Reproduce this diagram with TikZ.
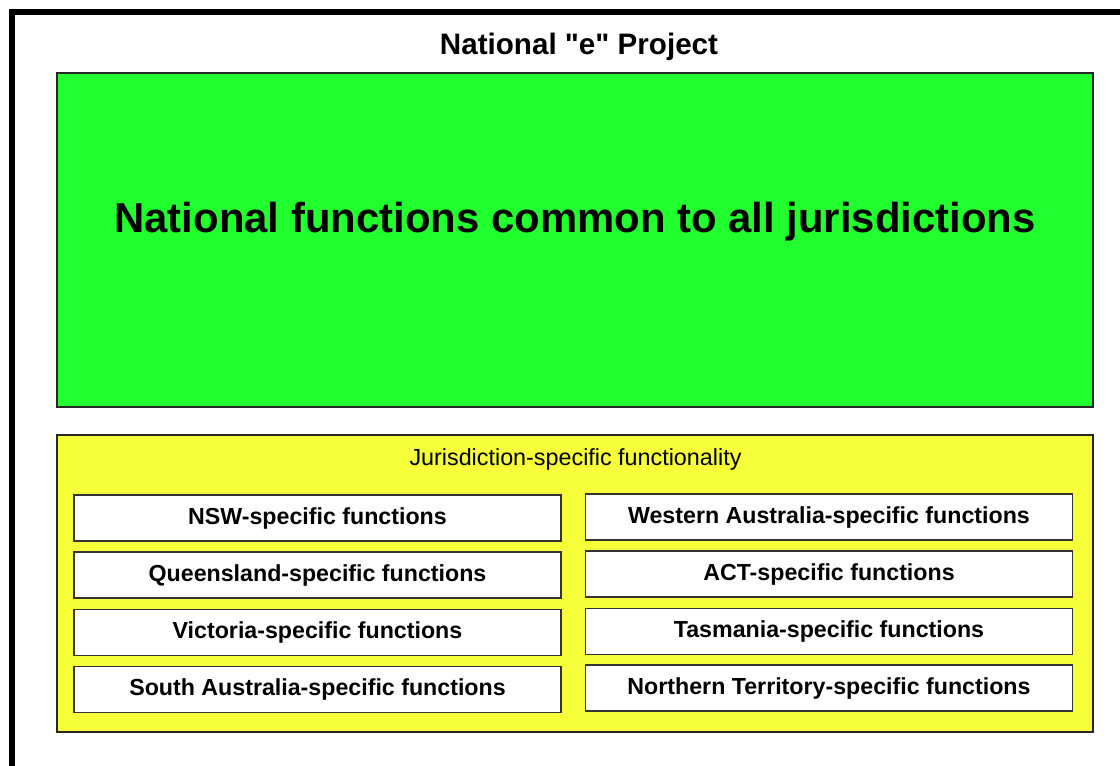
\documentclass[tikz,border=0pt]{standalone}
\usepackage{fontspec}
\setmainfont{Liberation Sans}
\definecolor{natgreen}{RGB}{34,255,46}
\definecolor{jurisyellow}{RGB}{246,255,58}
\tikzset{
  areabox/.style={draw=black!85, line width=0.8pt, inner sep=0pt, minimum width=777pt},
  statebox/.style={draw=black!80, line width=1pt, fill=white, inner sep=0pt,
    minimum width=365.25pt, minimum height=34.5pt,
    font=\fontsize{17.4}{20}\selectfont\bfseries},
}

\begin{document}
\begin{tikzpicture}[x=0.75pt, y=-0.75pt]
\useasboundingbox (0,0) rectangle (1120,765);
\clip (0,0) rectangle (1120,765);

% Outer frame, running off the page on the right and at the bottom
\draw[line width=4.5pt] (11.5,12) rectangle (1150,800);

% Title
\node[font=\fontsize{22.2}{26}\selectfont\bfseries] (title) at (579,47) {National \textquotedbl e\textquotedbl{} Project};

% National part
\node[areabox, fill=natgreen, minimum height=250.5pt] (national) at (575,240) {};
\node[font=\fontsize{31.4}{36}\selectfont\bfseries] (nationaltext) at (575,222) {National functions common to all jurisdictions};

% Jurisdiction part
\node[areabox, fill=jurisyellow, minimum height=222.75pt] (juris) at (575,583.5) {};
\node[font=\fontsize{17.5}{20}\selectfont] (juristitle) at (575.5,459) {Jurisdiction-specific functionality};

% Left column
\node[statebox] (nsw) at (317.5,518) {NSW-specific functions};
\node[statebox] (qld) at (317.5,575) {Queensland-specific functions};
\node[statebox] (vic) at (317.5,632.5) {Victoria-specific functions};
\node[statebox] (sa) at (317.5,689.5) {South Australia-specific functions};

% Right column
\node[statebox] (wa) at (829,517) {Western Australia-specific functions};
\node[statebox] (act) at (829,574) {ACT-specific functions};
\node[statebox] (tas) at (829,631.5) {Tasmania-specific functions};
\node[statebox] (nt) at (829,688) {Northern Territory-specific functions};

\end{tikzpicture}
\end{document}
